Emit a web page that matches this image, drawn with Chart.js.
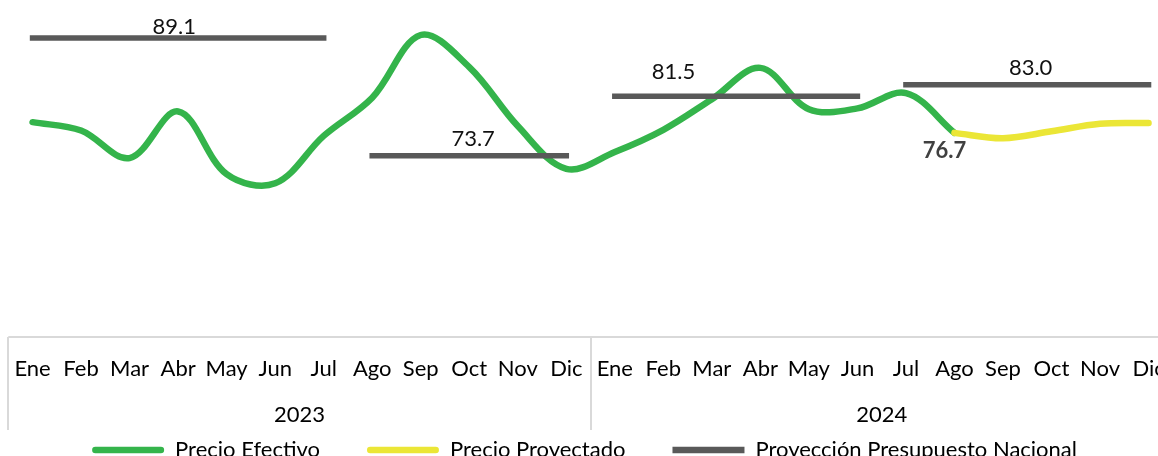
<!DOCTYPE html>
<html>
<head>
<meta charset="utf-8">
<script src="https://cdn.jsdelivr.net/npm/chart.js@4/dist/chart.umd.min.js"></script>
<style>
  html, body { margin: 0; padding: 0; background: #fff; overflow: hidden; }
  canvas { display: block; }
</style>
</head>
<body>
<canvas id="precios" width="1181" height="471"></canvas>
<script>
const meses = ['Ene', 'Feb', 'Mar', 'Abr', 'May', 'Jun', 'Jul', 'Ago', 'Sep', 'Oct', 'Nov', 'Dic'];
const anios = ['2023', '2024'];
const etiquetas = [...meses, ...meses];

const precioEfectivo = [78.1, 77.0, 73.4, 79.5, 71.3, 70.1, 76.3, 81.3, 89.5, 85.3, 77.6, 72.0,
  74.2, 77.1, 81.1, 85.2, 79.8, 79.9, 81.9, 76.7, null, null, null, null];
const precioProyectado = [null, null, null, null, null, null, null, null, null, null, null, null,
  null, null, null, null, null, null, null, 76.7, 76.0, 76.9, 77.9, 78.0];
const presupuesto = [89.1, 89.1, 89.1, 89.1, 89.1, 89.1, 89.1, 73.7, 73.7, 73.7, 73.7, 73.7,
  81.5, 81.5, 81.5, 81.5, 81.5, 81.5, 83.0, 83.0, 83.0, 83.0, 83.0, 83.0];

const FUENTE = 'Lato, "Open Sans", sans-serif';
const VERDE = '#34b44b';
const AMARILLO = '#ebe636';
const GRIS = '#595959';

// ejes, meses y años dibujados a mano (estilo Excel)
const ejeCategorias = {
  id: 'ejeCategorias',
  afterLayout(chart, args, opts) {
    // la leyenda del original queda un poco a la izquierda
    chart.legend.left += opts.leyendaDx;
    chart.legend.right += opts.leyendaDx;
  },
  afterDatasetsDraw(chart, args, opts) {
    const { ctx, chartArea } = chart;
    const x = chart.scales.x;
    const base = chartArea.bottom;
    ctx.save();
    ctx.strokeStyle = '#d9d9d9';
    ctx.lineWidth = 2;
    ctx.beginPath();
    ctx.moveTo(x.getPixelForValue(-0.5), base);
    ctx.lineTo(x.getPixelForValue(23.5), base);
    [-0.5, 11.5, 23.5].forEach(v => {
      const px = Math.round(x.getPixelForValue(v));
      ctx.moveTo(px, base);
      ctx.lineTo(px, base + opts.alto);
    });
    ctx.stroke();

    ctx.fillStyle = '#000';
    ctx.font = '22px ' + FUENTE;
    ctx.textAlign = 'center';
    ctx.textBaseline = 'alphabetic';
    etiquetas.forEach((m, i) => {
      ctx.fillText(m, x.getPixelForValue(i), base + opts.mesY);
    });
    anios.forEach((a, j) => {
      ctx.fillText(a, x.getPixelForValue(j * 12 + 5.5), base + opts.anioY);
    });
    ctx.restore();
  }
};

// etiquetas de valores
const etiquetasValor = {
  id: 'etiquetasValor',
  afterDatasetsDraw(chart, args, opts) {
    const { ctx } = chart;
    const x = chart.scales.x;
    const y = chart.scales.y;
    ctx.save();
    ctx.textAlign = 'center';
    ctx.textBaseline = 'alphabetic';
    ctx.fillStyle = '#111';
    ctx.font = '22px ' + FUENTE;
    opts.presupuesto.forEach(e => {
      const v = presupuesto[Math.round(e.idx)];
      ctx.fillText(v.toFixed(1), x.getPixelForValue(e.idx), y.getPixelForValue(v) - e.dy);
    });
    const i = 19;
    ctx.font = 'bold 22px ' + FUENTE;
    ctx.fillStyle = '#404040';
    ctx.fillText(precioEfectivo[i].toFixed(1), x.getPixelForValue(i) - 10, y.getPixelForValue(precioEfectivo[i]) + 25);
    ctx.restore();
  }
};

const tramo = ctx => ctx.p0.parsed.y !== ctx.p1.parsed.y ? 'rgba(0,0,0,0)' : undefined;

new Chart(document.getElementById('precios').getContext('2d'), {
  type: 'line',
  data: {
    labels: etiquetas,
    datasets: [
      {
        label: 'Precio Efectivo',
        data: precioEfectivo,
        borderColor: VERDE,
        backgroundColor: VERDE,
        borderWidth: 6.5,
        borderCapStyle: 'round',
        tension: 0.35,
        pointRadius: 0,
        order: 3
      },
      {
        label: 'Precio Proyectado',
        data: precioProyectado,
        borderColor: AMARILLO,
        backgroundColor: AMARILLO,
        borderWidth: 6.5,
        borderCapStyle: 'round',
        tension: 0.35,
        pointRadius: 0,
        order: 2
      },
      {
        label: 'Proyección Presupuesto Nacional',
        data: presupuesto,
        borderColor: GRIS,
        backgroundColor: GRIS,
        borderWidth: 5.5,
        borderCapStyle: 'square',
        tension: 0,
        pointRadius: 0,
        segment: { borderColor: tramo },
        order: 1
      }
    ]
  },
  options: {
    responsive: false,
    animation: false,
    devicePixelRatio: 1,
    layout: { padding: { left: 8.3, right: 8.2, top: 0.6, bottom: 0 } },
    scales: {
      x: {
        offset: true,
        grid: { display: false },
        border: { display: false },
        ticks: { display: false },
        afterFit: s => { s.height = 55; }
      },
      y: {
        display: false,
        min: 50,
        max: 94
      }
    },
    plugins: {
      tooltip: { enabled: false },
      legend: {
        position: 'bottom',
        labels: {
          boxWidth: 72,
          boxHeight: 6.5,
          padding: 47,
          color: '#000',
          font: { family: FUENTE, size: 22 },
          useBorderRadius: true,
          sort: (a, b) => a.datasetIndex - b.datasetIndex,
          generateLabels: chart => Chart.defaults.plugins.legend.labels.generateLabels(chart).map(it => {
            it.lineWidth = 0;
            it.borderRadius = it.datasetIndex === 2 ? 0 : 3.25;
            return it;
          })
        }
      },
      ejeCategorias: { alto: 93, mesY: 39.3, anioY: 85, leyendaDx: -6 },
      etiquetasValor: {
        presupuesto: [
          { idx: 2.92, dy: 4.4 },
          { idx: 9.08, dy: 10 },
          { idx: 13.21, dy: 17.4 },
          { idx: 20.57, dy: 9.3 }
        ]
      }
    }
  },
  plugins: [ejeCategorias, etiquetasValor]
});
</script>
</body>
</html>
